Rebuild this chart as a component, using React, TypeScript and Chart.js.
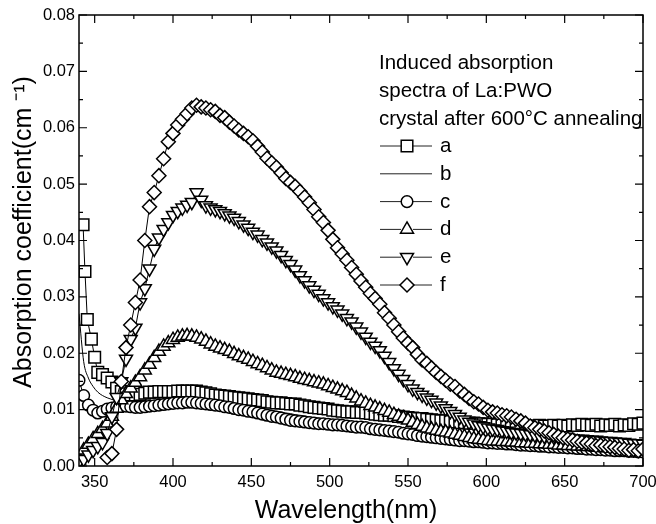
import React, { useEffect, useRef } from 'react';
import { Chart, registerables } from 'chart.js';

Chart.register(...registerables);

// ---------- data ----------
const wavelengths = [
  340, 343, 346, 349, 352, 355, 358, 361, 364, 367,
  370, 373, 376, 379, 382, 385, 388, 391, 394, 397,
  400, 403, 406, 409, 412, 415, 418, 421, 424, 427,
  430, 433, 436, 439, 442, 445, 448, 451, 454, 457,
  460, 463, 466, 469, 472, 475, 478, 481, 484, 487,
  490, 493, 496, 499, 502, 505, 508, 511, 514, 517,
  520, 523, 526, 529, 532, 535, 538, 541, 544, 547,
  550, 553, 556, 559, 562, 565, 568, 571, 574, 577,
  580, 583, 586, 589, 592, 595, 598, 601, 604, 607,
  610, 613, 616, 619, 622, 625, 628, 631, 634, 637,
  640, 643, 646, 649, 652, 655, 658, 661, 664, 667,
  670, 673, 676, 679, 682, 685, 688, 691, 694, 697,
  700,
];

// extra, denser readings of curve a at the very start of the range
const seriesAStartWavelengths = [342.6, 343.8, 345.3, 347.9, 350.0, 352.0];
const seriesAStartValues = [0.0428, 0.0345, 0.0260, 0.0225, 0.0193, 0.0166];

const seriesA = [
  null, null, null, null, null, 0.0162, 0.0156, 0.0149, 0.0138, 0.0132,
  0.0128, 0.0126, 0.0126, 0.0127, 0.0129, 0.0131, 0.0131, 0.0132, 0.0132, 0.0132,
  0.0132, 0.0133, 0.0133, 0.0133, 0.0133, 0.0133, 0.0131, 0.0130, 0.0128, 0.0126,
  0.0125, 0.0124, 0.0123, 0.0122, 0.0121, 0.0120, 0.0119, 0.0118, 0.0117, 0.0116,
  0.0114, 0.0113, 0.0112, 0.0112, 0.0111, 0.0110, 0.0110, 0.0108, 0.0107, 0.0105,
  0.0104, 0.0103, 0.0102, 0.0101, 0.0099, 0.0098, 0.0097, 0.0096, 0.0096, 0.0095,
  0.0095, 0.0094, 0.0093, 0.0092, 0.0091, 0.0090, 0.0090, 0.0089, 0.0088, 0.0087,
  0.0086, 0.0085, 0.0084, 0.0084, 0.0083, 0.0082, 0.0081, 0.0080, 0.0080, 0.0079,
  0.0078, 0.0077, 0.0077, 0.0076, 0.0076, 0.0075, 0.0075, 0.0074, 0.0074, 0.0073,
  0.0073, 0.0073, 0.0072, 0.0072, 0.0072, 0.0071, 0.0071, 0.0071, 0.0072, 0.0071,
  0.0071, 0.0072, 0.0071, 0.0072, 0.0071, 0.0073, 0.0072, 0.0074, 0.0073, 0.0072,
  0.0074, 0.0071, 0.0073, 0.0072, 0.0074, 0.0071, 0.0073, 0.0072, 0.0075, 0.0074,
  0.0076,
];

const seriesB = [
  0.0270, 0.0185, 0.0156, 0.0141, 0.0131, 0.0125, 0.0121, 0.0118, 0.0116, 0.0115,
  0.0114, 0.0113, 0.0113, 0.0113, 0.0114, 0.0115, 0.0116, 0.0117, 0.0118, 0.0119,
  0.0120, 0.0120, 0.0121, 0.0121, 0.0121, 0.0120, 0.0119, 0.0118, 0.0117, 0.0116,
  0.0115, 0.0113, 0.0112, 0.0111, 0.0109, 0.0108, 0.0106, 0.0105, 0.0103, 0.0102,
  0.0100, 0.0099, 0.0097, 0.0096, 0.0094, 0.0093, 0.0091, 0.0090, 0.0089, 0.0087,
  0.0086, 0.0085, 0.0084, 0.0083, 0.0082, 0.0081, 0.0080, 0.0079, 0.0078, 0.0077,
  0.0076, 0.0075, 0.0074, 0.0073, 0.0072, 0.0071, 0.0070, 0.0069, 0.0068, 0.0067,
  0.0066, 0.0065, 0.0064, 0.0063, 0.0062, 0.0061, 0.0060, 0.0060, 0.0059, 0.0058,
  0.0057, 0.0057, 0.0056, 0.0055, 0.0055, 0.0054, 0.0053, 0.0053, 0.0052, 0.0052,
  0.0051, 0.0051, 0.0050, 0.0050, 0.0049, 0.0049, 0.0048, 0.0048, 0.0047, 0.0047,
  0.0047, 0.0046, 0.0046, 0.0045, 0.0045, 0.0045, 0.0044, 0.0044, 0.0044, 0.0043,
  0.0043, 0.0043, 0.0042, 0.0042, 0.0042, 0.0041, 0.0041, 0.0041, 0.0040, 0.0040,
  0.0040,
];

const seriesC = [
  0.0152, 0.0125, 0.0108, 0.0099, 0.0094, 0.0097, 0.0101, 0.0103, 0.0105, 0.0106,
  0.0106, 0.0105, 0.0104, 0.0104, 0.0105, 0.0106, 0.0107, 0.0108, 0.0109, 0.0110,
  0.0111, 0.0112, 0.0112, 0.0113, 0.0113, 0.0112, 0.0111, 0.0110, 0.0109, 0.0108,
  0.0107, 0.0105, 0.0104, 0.0102, 0.0100, 0.0099, 0.0097, 0.0096, 0.0094, 0.0092,
  0.0090, 0.0088, 0.0087, 0.0085, 0.0083, 0.0081, 0.0080, 0.0079, 0.0078, 0.0077,
  0.0076, 0.0075, 0.0075, 0.0074, 0.0073, 0.0073, 0.0072, 0.0071, 0.0070, 0.0069,
  0.0069, 0.0068, 0.0066, 0.0065, 0.0064, 0.0063, 0.0062, 0.0061, 0.0060, 0.0058,
  0.0057, 0.0056, 0.0054, 0.0053, 0.0052, 0.0051, 0.0050, 0.0049, 0.0048, 0.0047,
  0.0046, 0.0045, 0.0045, 0.0044, 0.0043, 0.0043, 0.0042, 0.0041, 0.0041, 0.0040,
  0.0040, 0.0039, 0.0039, 0.0038, 0.0037, 0.0037, 0.0036, 0.0036, 0.0035, 0.0035,
  0.0034, 0.0034, 0.0033, 0.0033, 0.0032, 0.0032, 0.0031, 0.0031, 0.0030, 0.0030,
  0.0029, 0.0029, 0.0028, 0.0028, 0.0027, 0.0027, 0.0027, 0.0026, 0.0026, 0.0025,
  0.0025,
];

const seriesD = [
  0.0010, 0.0028, 0.0038, 0.0048, 0.0057, 0.0066, 0.0076, 0.0088, 0.0102, 0.0117,
  0.0128, 0.0138, 0.0148, 0.0158, 0.0170, 0.0180, 0.0192, 0.0203, 0.0212, 0.0218,
  0.0224, 0.0228, 0.0230, 0.0231, 0.0230, 0.0228, 0.0225, 0.0221, 0.0216, 0.0212,
  0.0209, 0.0206, 0.0203, 0.0199, 0.0195, 0.0192, 0.0189, 0.0185, 0.0181, 0.0178,
  0.0174, 0.0170, 0.0166, 0.0164, 0.0162, 0.0160, 0.0158, 0.0155, 0.0153, 0.0151,
  0.0149, 0.0147, 0.0145, 0.0142, 0.0139, 0.0136, 0.0133, 0.0130, 0.0125, 0.0120,
  0.0115, 0.0111, 0.0107, 0.0104, 0.0101, 0.0098, 0.0095, 0.0091, 0.0088, 0.0085,
  0.0081, 0.0077, 0.0073, 0.0070, 0.0067, 0.0065, 0.0063, 0.0061, 0.0060, 0.0058,
  0.0056, 0.0054, 0.0052, 0.0050, 0.0048, 0.0047, 0.0046, 0.0045, 0.0044, 0.0044,
  0.0043, 0.0043, 0.0042, 0.0042, 0.0041, 0.0041, 0.0040, 0.0040, 0.0039, 0.0039,
  0.0038, 0.0038, 0.0037, 0.0037, 0.0036, 0.0036, 0.0035, 0.0035, 0.0034, 0.0034,
  0.0033, 0.0033, 0.0032, 0.0032, 0.0031, 0.0031, 0.0030, 0.0030, 0.0029, 0.0029,
  0.0028,
];

const seriesE = [
  0.0008, 0.0012, 0.0020, 0.0028, 0.0035, 0.0042, 0.0058, 0.0088, 0.0122, 0.0150,
  0.0190, 0.0225, 0.0245, 0.0290, 0.0315, 0.0350, 0.0385, 0.0405, 0.0420, 0.0432,
  0.0445, 0.0452, 0.0458, 0.0463, 0.0468, 0.0485, 0.0472, 0.0462, 0.0458, 0.0455,
  0.0452, 0.0448, 0.0444, 0.0440, 0.0434, 0.0428, 0.0422, 0.0415, 0.0410, 0.0402,
  0.0396, 0.0389, 0.0382, 0.0374, 0.0365, 0.0358, 0.0348, 0.0338, 0.0329, 0.0320,
  0.0312, 0.0305, 0.0297, 0.0290, 0.0283, 0.0277, 0.0270, 0.0262, 0.0256, 0.0247,
  0.0238, 0.0229, 0.0220, 0.0213, 0.0205, 0.0195, 0.0184, 0.0173, 0.0163, 0.0154,
  0.0145, 0.0137, 0.0131, 0.0126, 0.0121, 0.0117, 0.0112, 0.0107, 0.0102, 0.0097,
  0.0092, 0.0087, 0.0082, 0.0078, 0.0075, 0.0072, 0.0070, 0.0068, 0.0066, 0.0065,
  0.0063, 0.0062, 0.0060, 0.0059, 0.0058, 0.0057, 0.0056, 0.0055, 0.0054, 0.0053,
  0.0052, 0.0052, 0.0051, 0.0050, 0.0050, 0.0049, 0.0048, 0.0048, 0.0047, 0.0046,
  0.0046, 0.0045, 0.0044, 0.0044, 0.0043, 0.0042, 0.0042, 0.0041, 0.0040, 0.0040,
  0.0039,
];

const seriesF = [
  null, null, null, null, null, null, 0.0015, 0.0022, 0.0065, 0.0150,
  0.0210, 0.0250, 0.0290, 0.0330, 0.0400, 0.0460, 0.0485, 0.0515, 0.0545, 0.0575,
  0.0590, 0.0605, 0.0615, 0.0625, 0.0635, 0.0640, 0.0637, 0.0635, 0.0632, 0.0629,
  0.0622, 0.0618, 0.0610, 0.0603, 0.0596, 0.0590, 0.0584, 0.0577, 0.0567, 0.0557,
  0.0546, 0.0538, 0.0530, 0.0520, 0.0510, 0.0503, 0.0496, 0.0487, 0.0477, 0.0467,
  0.0455, 0.0442, 0.0432, 0.0418, 0.0402, 0.0387, 0.0376, 0.0365, 0.0352, 0.0340,
  0.0328, 0.0317, 0.0306, 0.0297, 0.0287, 0.0272, 0.0262, 0.0250, 0.0238, 0.0227,
  0.0218, 0.0210, 0.0198, 0.0188, 0.0182, 0.0174, 0.0166, 0.0159, 0.0152, 0.0145,
  0.0141, 0.0133, 0.0127, 0.0120, 0.0114, 0.0110, 0.0104, 0.0099, 0.0096, 0.0094,
  0.0091, 0.0089, 0.0087, 0.0083, 0.0080, 0.0076, 0.0071, 0.0068, 0.0065, 0.0062,
  0.0059, 0.0056, 0.0053, 0.0050, 0.0048, 0.0046, 0.0044, 0.0042, 0.0041, 0.0039,
  0.0036, 0.0037, 0.0035, 0.0034, 0.0033, 0.0031, 0.0030, 0.0028, 0.0029, 0.0027,
  0.0030,
];

const seriesLabels = ['a', 'b', 'c', 'd', 'e', 'f'];
const legendTitleLines = ['Induced absorption', 'spectra of La:PWO', 'crystal after 600°C annealing'];

const xMajorTicks = [350, 400, 450, 500, 550, 600, 650, 700];
const xMinorTicks = [375, 425, 475, 525, 575, 625, 675];
const yMajorTicks = [0, 0.01, 0.02, 0.03, 0.04, 0.05, 0.06, 0.07, 0.08];
const yMinorTicks = [0.005, 0.015, 0.025, 0.035, 0.045, 0.055, 0.065, 0.075];

const xTitle = 'Wavelength(nm)';
const yTitle = 'Absorption coefficient(cm \u207B\u00B9)';

// ---------- styles ----------
const FONT = "'Liberation Sans', Arial, Helvetica, sans-serif";

type Marker = { style: string; radius: number; rotation: number };
const markers: Marker[] = [
  { style: 'rect', radius: 8.2, rotation: 0 },
  { style: 'none', radius: 0, rotation: 0 },
  { style: 'circle', radius: 5.8, rotation: 0 },
  { style: 'triangle', radius: 7.5, rotation: 0 },
  { style: 'triangle', radius: 7.5, rotation: 180 },
  { style: 'rectRot', radius: 7, rotation: 0 },
];

const allSeries = [seriesA, seriesB, seriesC, seriesD, seriesE, seriesF];

function toPoints(values: (number | null)[]) {
  return wavelengths.map((x, i) => ({ x, y: values[i] })).filter((p) => p.y !== null);
}

function seriesPoints(i: number) {
  const pts = toPoints(allSeries[i]);
  if (i === 0) {
    const start = seriesAStartWavelengths.map((x, k) => ({ x, y: seriesAStartValues[k] }));
    return [...start, ...pts];
  }
  return pts;
}

function drawMarker(ctx: CanvasRenderingContext2D, m: Marker, x: number, y: number) {
  if (m.style === 'none') return;
  const r = m.radius;
  ctx.beginPath();
  if (m.style === 'rect') {
    const s = Math.SQRT1_2 * r;
    ctx.rect(x - s, y - s, 2 * s, 2 * s);
  } else if (m.style === 'circle') {
    ctx.arc(x, y, r, 0, Math.PI * 2);
  } else if (m.style === 'triangle') {
    let rad = (m.rotation * Math.PI) / 180;
    ctx.moveTo(x + Math.sin(rad) * r, y - Math.cos(rad) * r);
    rad += (2 * Math.PI) / 3;
    ctx.lineTo(x + Math.sin(rad) * r, y - Math.cos(rad) * r);
    rad += (2 * Math.PI) / 3;
    ctx.lineTo(x + Math.sin(rad) * r, y - Math.cos(rad) * r);
    ctx.closePath();
  } else if (m.style === 'rectRot') {
    ctx.moveTo(x - r, y);
    ctx.lineTo(x, y - r);
    ctx.lineTo(x + r, y);
    ctx.lineTo(x, y + r);
    ctx.closePath();
  }
  ctx.fillStyle = '#fff';
  ctx.fill();
  ctx.lineWidth = 1.5;
  ctx.strokeStyle = '#000';
  ctx.stroke();
}

const framePlugin = {
  id: 'frameAndLegend',
  afterDraw(chart: any) {
    const { ctx, chartArea } = chart;
    const { left, right, top, bottom } = chartArea;
    const xs = chart.scales.x;
    const ys = chart.scales.y;
    ctx.save();
    // frame
    ctx.strokeStyle = '#000';
    ctx.lineWidth = 1.5;
    ctx.strokeRect(left, top, right - left, bottom - top);
    // inward ticks on all four sides
    ctx.lineWidth = 1.2;
    ctx.beginPath();
    const xt = (v: number, len: number) => {
      const p = xs.getPixelForValue(v);
      ctx.moveTo(p, bottom);
      ctx.lineTo(p, bottom - len);
      ctx.moveTo(p, top);
      ctx.lineTo(p, top + len);
    };
    const yt = (v: number, len: number) => {
      const p = ys.getPixelForValue(v);
      ctx.moveTo(left, p);
      ctx.lineTo(left + len, p);
      ctx.moveTo(right, p);
      ctx.lineTo(right - len, p);
    };
    xMajorTicks.forEach((v) => xt(v, 8));
    xMinorTicks.forEach((v) => xt(v, 4));
    yMajorTicks.forEach((v) => yt(v, 8));
    yMinorTicks.forEach((v) => yt(v, 4));
    ctx.stroke();

    // axis titles
    ctx.fillStyle = '#000';
    ctx.font = `25px ${FONT}`;
    ctx.textAlign = 'center';
    ctx.textBaseline = 'alphabetic';
    ctx.fillText(xTitle, left + 267, bottom + 52);
    ctx.save();
    ctx.translate(left - 55, top + 217);
    ctx.rotate(-Math.PI / 2);
    ctx.textBaseline = 'middle';
    ctx.fillText(yTitle, 0, 0);
    ctx.restore();

    // legend block
    const lx = left + 300;
    ctx.fillStyle = '#000';
    ctx.font = `20.5px ${FONT}`;
    ctx.textBaseline = 'alphabetic';
    ctx.textAlign = 'left';
    legendTitleLines.forEach((t, i) => {
      ctx.fillText(t, lx, top + 54 + i * 28);
    });
    seriesLabels.forEach((lab, i) => {
      const baseY = top + 137 + i * 27.8;
      const cy = baseY - 6;
      ctx.strokeStyle = '#222';
      ctx.lineWidth = 1;
      ctx.beginPath();
      if (markers[i].style === 'none') {
        ctx.moveTo(lx + 1, cy);
        ctx.lineTo(lx + 53, cy);
      } else {
        ctx.moveTo(lx + 1, cy);
        ctx.lineTo(lx + 22, cy);
        ctx.moveTo(lx + 34, cy);
        ctx.lineTo(lx + 53, cy);
      }
      ctx.stroke();
      drawMarker(ctx, markers[i], lx + 28, cy);
      ctx.fillStyle = '#000';
      ctx.fillText(lab, lx + 61, baseY);
    });
    ctx.restore();
  },
};

export default function App() {
  const ref = useRef<HTMLCanvasElement>(null);

  useEffect(() => {
    if (!ref.current) return;
    const datasets = allSeries.map((_vals, i) => ({
      label: seriesLabels[i],
      data: seriesPoints(i),
      borderColor: '#000',
      borderWidth: 1,
      backgroundColor: '#fff',
      pointStyle: markers[i].style === 'none' ? 'circle' : markers[i].style,
      pointRadius: markers[i].radius,
      pointRotation: markers[i].rotation,
      pointBackgroundColor: '#fff',
      pointBorderColor: '#000',
      pointBorderWidth: 1.5,
      pointHoverRadius: markers[i].radius,
      tension: i === 1 ? 0.4 : 0,
      cubicInterpolationMode: i === 1 ? 'monotone' : 'default',
      fill: false,
      spanGaps: false,
      order: 6 - i,
    }));

    const chart = new Chart(ref.current, {
      type: 'line',
      data: { datasets } as any,
      options: {
        responsive: false,
        animation: false,
        events: [],
        layout: { padding: { top: 15, right: 13, left: 0, bottom: 0 } },
        plugins: {
          legend: { display: false },
          tooltip: { enabled: false },
        },
        scales: {
          x: {
            type: 'linear',
            min: 340,
            max: 700,
            afterBuildTicks: (scale: any) => {
              scale.ticks = [...xMajorTicks, ...xMinorTicks].sort((a, b) => a - b).map((v) => ({ value: v }));
            },
            afterFit: (scale: any) => {
              scale.height = 58;
              scale.paddingLeft = 0;
              scale.paddingRight = 0;
            },
            grid: { display: false, drawTicks: false },
            border: { display: false },
            ticks: {
              autoSkip: false,
              maxRotation: 0,
              padding: 7,
              color: '#000',
              font: { family: FONT, size: 16.5 },
              callback: (v: any) => (xMajorTicks.includes(Number(v)) ? String(v) : ''),
            },
          },
          y: {
            type: 'linear',
            min: 0,
            max: 0.08,
            afterBuildTicks: (scale: any) => {
              scale.ticks = [...yMajorTicks, ...yMinorTicks].sort((a, b) => a - b).map((v) => ({ value: v }));
            },
            afterFit: (scale: any) => {
              scale.width = 79;
              scale.paddingTop = 0;
              scale.paddingBottom = 0;
            },
            grid: { display: false, drawTicks: false },
            border: { display: false },
            ticks: {
              autoSkip: false,
              padding: 4,
              color: '#000',
              font: { family: FONT, size: 16.5 },
              callback: (v: any) => {
                const n = Number(v);
                return yMajorTicks.some((t) => Math.abs(t - n) < 1e-9) ? n.toFixed(2) : '';
              },
            },
          },
        },
      } as any,
      plugins: [framePlugin],
    });
    return () => chart.destroy();
  }, []);

  return (
    <div style={{ position: 'absolute', left: 0, top: 0, width: 656, height: 524, background: '#fff' }}>
      <canvas ref={ref} width={656} height={524} style={{ display: 'block' }} />
    </div>
  );
}
